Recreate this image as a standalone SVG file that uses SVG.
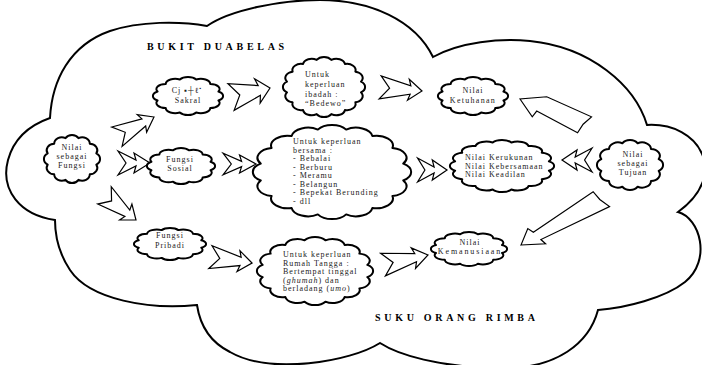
<svg xmlns="http://www.w3.org/2000/svg" xmlns:xlink="http://www.w3.org/1999/xlink" width="702" height="365" viewBox="0 0 702 365">
<style>
.cl{fill:#fff;stroke:#000;stroke-width:2;vector-effect:non-scaling-stroke;stroke-linejoin:round}
.ar{fill:#fff;stroke:#000;stroke-width:1.2;vector-effect:non-scaling-stroke;stroke-linejoin:miter}
.t{font-family:"Liberation Serif","Times New Roman",serif;font-size:8px;letter-spacing:1px;fill:#1a1a1a}
.c{text-anchor:middle}
.h{font-family:"Liberation Serif","Times New Roman",serif;font-size:10px;font-weight:bold;letter-spacing:3.7px;fill:#000}
</style>
<defs>
<path id="c12" class="cl" d="M0.869,0.233 A0.27,0.27 0 0 1 0.636,0.636 A0.27,0.27 0 0 1 0.233,0.869 A0.27,0.27 0 0 1 -0.233,0.869 A0.27,0.27 0 0 1 -0.636,0.636 A0.27,0.27 0 0 1 -0.869,0.233 A0.27,0.27 0 0 1 -0.869,-0.233 A0.27,0.27 0 0 1 -0.636,-0.636 A0.27,0.27 0 0 1 -0.233,-0.869 A0.27,0.27 0 0 1 0.233,-0.869 A0.27,0.27 0 0 1 0.636,-0.636 A0.27,0.27 0 0 1 0.869,-0.233 A0.27,0.27 0 0 1 0.869,0.233 Z"/>
<path id="c16" class="cl" d="M0.902,0.179 A0.21,0.21 0 0 1 0.765,0.511 A0.21,0.21 0 0 1 0.511,0.765 A0.21,0.21 0 0 1 0.179,0.902 A0.21,0.21 0 0 1 -0.179,0.902 A0.21,0.21 0 0 1 -0.511,0.765 A0.21,0.21 0 0 1 -0.765,0.511 A0.21,0.21 0 0 1 -0.902,0.179 A0.21,0.21 0 0 1 -0.902,-0.179 A0.21,0.21 0 0 1 -0.765,-0.511 A0.21,0.21 0 0 1 -0.511,-0.765 A0.21,0.21 0 0 1 -0.179,-0.902 A0.21,0.21 0 0 1 0.179,-0.902 A0.21,0.21 0 0 1 0.511,-0.765 A0.21,0.21 0 0 1 0.765,-0.511 A0.21,0.21 0 0 1 0.902,-0.179 A0.21,0.21 0 0 1 0.902,0.179 Z"/>
<path id="arrN" class="ar" d="M0,0 L-13,-10 L-11,-4 L-40,-11 L-31,0 L-40,11 L-11,4 L-13,10 Z"/>
<path id="arrZ" class="ar" d="M0,0 L-16,-10 L-14,-3 L-32,-12 L-24,0 L-32,12 L-14,3 L-16,10 Z"/>
<path id="arrL6" class="ar" d="M0,0 L-18,-12 L-20,-5 L-66,-10 L-68,0 L-73,10 L-24,12 Z"/>
<path id="arrL10" class="ar" d="M0,0 L-22,-11 L-20,-5 L-96,-10 L-91,1 L-89,11 L-17,5 L-14,11 Z"/>
</defs>

<g id="outer-cloud">
<path d="M50,118 C52,80 70,45 110,31 C140,21 180,21 207,26 C230,10 280,0 320,0 C370,0 415,20 433,57 C460,42 500,38 530,41 C590,47 635,85 647,125 C700,122 730,175 678,212 C700,218 712,260 685,282 C665,298 625,308 598,310 C590,340 560,372 490,368 C440,366 400,356 380,343 C350,362 270,375 230,352 C210,342 200,325 197,305 C150,310 90,300 70,270 C58,252 55,235 55,220 C20,215 0,190 8,160 C14,138 30,125 50,118 Z" fill="#fff" stroke="#000" stroke-width="2" stroke-linejoin="miter"/>
<text class="h" x="147" y="50">BUKIT DUABELAS</text>
<text class="h" x="375" y="321">SUKU ORANG RIMBA</text>
</g>

<g id="connectors">
<use href="#arrN" transform="translate(154,117) rotate(-28) scale(1.05,1)"/>
<use href="#arrZ" transform="translate(150,163)"/>
<use href="#arrN" transform="translate(136,220) rotate(38)"/>
<use href="#arrN" transform="translate(270,88) rotate(-13) scale(1,1.25)"/>
<use href="#arrN" transform="translate(422,91) rotate(5) scale(1.05,1.05)"/>
<use href="#arrZ" transform="translate(256,164) scale(1.03,0.9)"/>
<use href="#arrZ" transform="translate(447,170) scale(0.92,1)"/>
<use href="#arrZ" transform="translate(562,160) rotate(180) scale(0.94,1)"/>
<use href="#arrL6" transform="translate(520,99) rotate(-158.2)"/>
<use href="#arrL10" transform="translate(521,245) rotate(150.6)"/>
<use href="#arrN" transform="translate(252,263) rotate(8) scale(1.05,1.05)"/>
<use href="#arrN" transform="translate(428,255) rotate(-12) scale(1.15,1.05)"/>
</g>

<g id="n-sakral">
<use href="#c12" transform="translate(188,96) scale(35,19)"/>
<text class="t c" x="187" y="93">Cj ▪┼ℓ<tspan font-size="5" dy="-3">▪</tspan></text>
<text class="t c" x="188" y="103">Sakral</text>
</g>

<g id="n-ibadah">
<use href="#c16" transform="translate(324,87) scale(41,30)"/>
<text class="t" x="305" y="77">Untuk</text>
<text class="t" x="305" y="87">keperluan</text>
<text class="t" x="305" y="97">ibadah :</text>
<text class="t" x="305" y="106">“Bedewo”</text>
</g>

<g id="n-ketuhanan">
<use href="#c12" transform="translate(473,96) scale(35,19)"/>
<text class="t c" x="473" y="93">Nilai</text>
<text class="t c" x="473" y="103" style="letter-spacing:1.3px">Ketuhanan</text>
</g>

<g id="n-fungsi">
<use href="#c12" transform="translate(72,159) scale(28,24)"/>
<text class="t c" x="72" y="150">Nilai</text>
<text class="t c" x="72" y="159">sebagai</text>
<text class="t c" x="72" y="168">Fungsi</text>
</g>

<g id="n-sosial">
<use href="#c12" transform="translate(181,166) scale(34,18)"/>
<text class="t c" x="180" y="162">Fungsi</text>
<text class="t c" x="180" y="171">Sosial</text>
</g>

<g id="n-bersama">
<use href="#c16" transform="translate(332,172) scale(79,47)"/>
<text class="t" x="293" y="144">Untuk keperluan</text>
<text class="t" x="293" y="152.5">bersama  :</text>
<text class="t" x="293" y="161">- Bebalai</text>
<text class="t" x="293" y="169.5">- Berburu</text>
<text class="t" x="293" y="178">- Meramu</text>
<text class="t" x="293" y="186.5">- Belangun</text>
<text class="t" x="293" y="195">- Bepekat Berunding</text>
<text class="t" x="293" y="203.5">- dll</text>
</g>

<g id="n-kerukunan">
<use href="#c16" transform="translate(502,166) scale(52,26)"/>
<text class="t" x="465" y="160">Nilai Kerukunan</text>
<text class="t" x="465" y="168.5">Nilai Kebersamaan</text>
<text class="t" x="465" y="177">Nilai Keadilan</text>
</g>

<g id="n-tujuan">
<use href="#c12" transform="translate(630,165) scale(33,25)"/>
<text class="t c" x="633" y="157">Nilai</text>
<text class="t c" x="633" y="166">sebagai</text>
<text class="t c" x="633" y="175">Tujuan</text>
</g>

<g id="n-pribadi">
<use href="#c12" transform="translate(170,244) scale(36,16)"/>
<text class="t c" x="170" y="238">Fungsi</text>
<text class="t c" x="170" y="248">Pribadi</text>
</g>

<g id="n-rumah">
<use href="#c16" transform="translate(315,271) scale(58,34)"/>
<text class="t" x="283" y="257">Untuk keperluan</text>
<text class="t" x="283" y="265.5">Rumah Tangga :</text>
<text class="t" x="283" y="274">Bertempat tinggal</text>
<text class="t" x="283" y="282.5">(<tspan font-style="italic">ghumah</tspan>) dan</text>
<text class="t" x="283" y="291">berladang (<tspan font-style="italic">umo</tspan>)</text>
</g>

<g id="n-kemanusiaan">
<use href="#c12" transform="translate(469,249) scale(38,17)"/>
<text class="t c" x="470" y="245">Nilai</text>
<text class="t c" x="470" y="254" style="letter-spacing:1.9px">Kemanusiaan</text>
</g>
</svg>
